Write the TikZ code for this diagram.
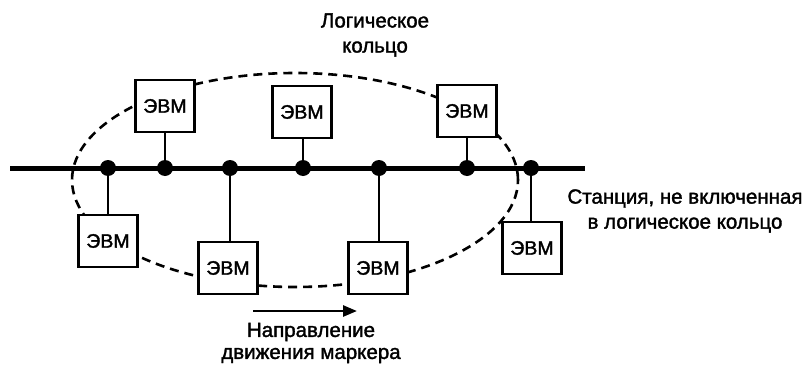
\documentclass[tikz,border=0pt]{standalone}
\usepackage{fontspec}
\setmainfont{Liberation Sans}
\newfontfamily\heavy[FakeBold=1.6]{Liberation Sans}
\usetikzlibrary{arrows.meta}
\begin{document}
\begin{tikzpicture}[x=1pt,y=-1pt,
  evm/.style={draw,line width=2.6pt,fill=white,minimum width=59pt,minimum height=52pt,inner sep=0pt,font=\heavy\fontsize{19.5}{22}\selectfont},
  junc/.style={circle,fill=black,inner sep=0pt,minimum size=16pt},
  stub/.style={line width=2.6pt},
  bus/.style={line width=5pt},
  ring/.style={line width=2.6pt,dash pattern=on 9pt off 6pt},
  lbl/.style={align=center,inner sep=0pt,font=\heavy\fontsize{20.5}{25}\selectfont}]
\useasboundingbox (0,0) rectangle (807,367);
% logical ring
\draw[ring] (295,180) ellipse [x radius=223pt, y radius=107pt];
% bus
\coordinate (busL) at (10,168);
\coordinate (busR) at (585,168);
\draw[bus] (busL) -- (busR);
% junctions
\node[junc] (j1) at (108,168) {};
\node[junc] (j2) at (165,168) {};
\node[junc] (j3) at (230,168) {};
\node[junc] (j4) at (303,168) {};
\node[junc] (j5) at (379,168) {};
\node[junc] (j6) at (467,168) {};
\node[junc] (j7) at (531,168) {};
% computers
\node[evm] (b1) at (108,241) {ЭВМ};
\node[evm] (b2) at (165,106) {ЭВМ};
\node[evm] (b3) at (228,268) {ЭВМ};
\node[evm] (b4) at (302,112) {ЭВМ};
\node[evm] (b5) at (378,268) {ЭВМ};
\node[evm] (b6) at (467,111) {ЭВМ};
\node[evm] (b7) at (532,248) {ЭВМ};
% stubs
\draw[stub] (j1) -- (b1.north);
\draw[stub] (j2) -- (b2.south);
\draw[stub] (j3) -- (b3.north -| j3);
\draw[stub] (j4) -- (b4.south -| j4);
\draw[stub] (j5) -- (b5.north -| j5);
\draw[stub] (j6) -- (b6.south);
\draw[stub] (j7) -- (b7.north -| j7);
% labels
\node[lbl] (ring) at (375,35) {Логическое\\кольцо};
\node[lbl] (excl) at (685,211) {Станция, не включенная\\в логическое кольцо};
\coordinate (arrL) at (253,311);
\coordinate (arrR) at (357,311);
\draw[line width=2.6pt,-{Triangle[length=14pt,width=11pt]}] (arrL) -- (arrR);
\node[lbl,font=\heavy\fontsize{20.5}{22}\selectfont] (dir) at (311,343) {Направление\\движения маркера};
\end{tikzpicture}
\end{document}
